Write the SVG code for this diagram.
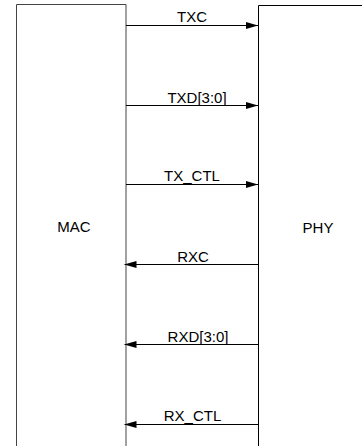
<svg xmlns="http://www.w3.org/2000/svg" width="362" height="446" viewBox="0 0 362 446">
<style>
.box{fill:#fff;stroke:#000;stroke-width:1}
.mac{stroke:#444}
.lbl{font-family:"Liberation Sans",Arial,sans-serif;font-size:15px;fill:#000;text-anchor:middle}
.con{stroke:#000;stroke-width:1;fill:none}
</style>
<defs>
<marker id="ah" viewBox="0 0 12 7" refX="12" refY="3.5" markerWidth="12" markerHeight="7" markerUnits="userSpaceOnUse" orient="auto">
<path d="M0,0 L12,3.5 L0,7 Z" fill="#000"/>
</marker>
</defs>
<rect width="362" height="446" fill="#fff"/>
<g id="mac">
<path class="box mac" d="M16.5,450 V4.5 H126 V450"/>
<text class="lbl" x="74" y="232">MAC</text>
</g>
<g id="phy">
<path class="box" d="M258.5,450 V5.5 H366"/>
<text class="lbl" x="318" y="232.5">PHY</text>
</g>
<g id="connectors">
<line class="con" x1="126" y1="25.5" x2="258" y2="25.5" marker-end="url(#ah)"/>
<line class="con" x1="126" y1="105.5" x2="258" y2="105.5" marker-end="url(#ah)"/>
<line class="con" x1="126" y1="184.5" x2="258" y2="184.5" marker-end="url(#ah)"/>
<line class="con" x1="258" y1="264.5" x2="124.5" y2="264.5" marker-end="url(#ah)"/>
<line class="con" x1="258" y1="344.5" x2="124.5" y2="344.5" marker-end="url(#ah)"/>
<line class="con" x1="258" y1="424.5" x2="124.5" y2="424.5" marker-end="url(#ah)"/>
<text class="lbl" x="192" y="22">TXC</text>
<text class="lbl" x="197" y="103">TXD[3:0]</text>
<text class="lbl" x="192" y="181">TX_CTL</text>
<text class="lbl" x="193" y="261.5">RXC</text>
<text class="lbl" x="198" y="341.5">RXD[3:0]</text>
<text class="lbl" x="192.5" y="421">RX_CTL</text>
</g>
</svg>
